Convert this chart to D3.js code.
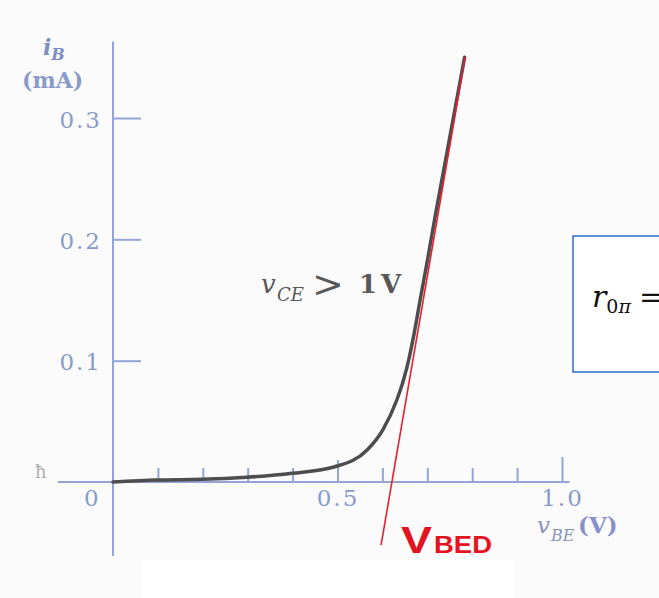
<!DOCTYPE html>
<html>
<head>
<meta charset="utf-8">
<script src="https://cdn.jsdelivr.net/npm/d3@7"></script>
<style>
  html, body { margin: 0; padding: 0; background: #fbfbfb; }
  svg { display: block; }
  .axis text { font-family: 'DejaVu Serif', serif; font-size: 23px; fill: #8a9bca; letter-spacing: 2px; }
  .axis line, .axis path { stroke: #93a5d6; stroke-width: 2px; }
</style>
</head>
<body>
<div id="chart"></div>
<script>
// forward characteristic i_B vs v_BE
const vBE = [0, 0.098, 0.198, 0.298, 0.399, 0.494, 0.566, 0.601, 0.6325, 0.647, 0.660, 0.672, 0.684, 0.699, 0.718, 0.738, 0.758, 0.783];
const iB = [0, 0.0017, 0.0022, 0.0039, 0.0072, 0.0126, 0.0264, 0.043, 0.068, 0.084, 0.103, 0.125, 0.150, 0.180, 0.220, 0.260, 0.300, 0.350];

// red tangent line (V_BED construction)
const tangentV = [0.597, 0.784];
const tangentI = [-0.052, 0.35];

const xTicks = [0.1, 0.2, 0.3, 0.4, 0.5, 0.6, 0.7, 0.8, 0.9, 1.0];
const xLabels = [0.5, 1.0];
const yTicks = [0.1, 0.2, 0.3];

const width = 659, height = 598;

const svg = d3.select('#chart').append('svg')
  .attr('width', width)
  .attr('height', height);

// white patch at the bottom of the scan
svg.append('rect')
  .attr('x', 142).attr('y', 560).attr('width', 372).attr('height', 38)
  .attr('fill', '#ffffff');

const x = d3.scaleLinear().domain([0, 1]).range([113, 562]);
const y = d3.scaleLinear().domain([0, 0.3]).range([482, 118]);

// y axis: ticks point right, labels on the left
const gy = svg.append('g')
  .attr('class', 'axis')
  .attr('transform', 'translate(' + x(0) + ',0)')
  .call(d3.axisLeft(y).tickValues(yTicks).tickFormat(d3.format('.1f'))
    .tickSizeInner(-28).tickSizeOuter(0).tickPadding(11));
gy.select('.domain').remove();
gy.selectAll('.tick text').attr('dy', '0.4em');
gy.append('line')
  .attr('x1', 0).attr('x2', 0)
  .attr('y1', y(0.363)).attr('y2', y(-0.061));

// x axis: ticks point up
const gx = svg.append('g')
  .attr('class', 'axis')
  .attr('transform', 'translate(0,' + y(0) + ')')
  .call(d3.axisBottom(x).tickValues(xTicks)
    .tickFormat(d => xLabels.includes(d) ? d3.format('.1f')(d) : '')
    .tickSizeInner(-14).tickSizeOuter(0).tickPadding(9));
gx.select('.domain').remove();
gx.selectAll('.tick line')
  .attr('y2', d => d === 1.0 ? -25 : (d === 0.5 ? -22 : -14));
gx.selectAll('.tick text').attr('y', 24).attr('dy', 0);
gx.append('line')
  .attr('x1', x(-0.123)).attr('x2', x(1.017))
  .attr('y1', 0).attr('y2', 0);
gx.append('text')
  .attr('x', x(-0.046)).attr('y', 24)
  .attr('text-anchor', 'middle')
  .text('0');

// axis titles
const iTitle = svg.append('text')
  .attr('x', 43).attr('y', 55)
  .style('font-family', "'DejaVu Serif', serif")
  .style('font-weight', 'bold').style('font-style', 'italic')
  .style('font-size', '22px').attr('fill', '#7d8fc2');
iTitle.append('tspan').text('i');
iTitle.append('tspan').attr('dy', 5).style('font-size', '16px').text('B');

svg.append('text')
  .attr('x', 22).attr('y', 88)
  .style('font-family', "'DejaVu Serif', serif")
  .style('font-weight', 'bold')
  .style('font-size', '22px').attr('fill', '#8a9bca')
  .text('(mA)');

const vTitle = svg.append('text')
  .attr('y', 533)
  .style('font-family', "'DejaVu Serif', serif")
  .style('font-size', '23px').attr('fill', '#8a93be');
vTitle.append('tspan').attr('x', 537).style('font-style', 'italic').text('v');
vTitle.append('tspan').attr('x', 551).attr('y', 541).style('font-style', 'italic').style('font-size', '16px').text('BE');
vTitle.append('tspan').attr('x', 578).attr('y', 533)
  .style('font-weight', 'bold').attr('fill', '#8a8fcc').text('(V)');

// stray mark left of the origin
svg.append('text')
  .attr('x', 35).attr('y', 478)
  .style('font-family', "'DejaVu Serif', serif")
  .style('font-size', '18px').attr('fill', '#b0b0b0')
  .text('ħ');

// characteristic curve
const pts = vBE.map((v, i) => [v, iB[i]]);
svg.append('path')
  .datum(pts)
  .attr('fill', 'none')
  .attr('stroke', '#4d4d4d')
  .attr('stroke-width', 3.5)
  .attr('stroke-linecap', 'round')
  .attr('d', d3.line().x(d => x(d[0])).y(d => y(d[1])).curve(d3.curveMonotoneX));

// tangent
svg.append('line')
  .attr('x1', x(tangentV[0])).attr('y1', y(tangentI[0]))
  .attr('x2', x(tangentV[1])).attr('y2', y(tangentI[1]))
  .attr('stroke', '#e8202e')
  .attr('stroke-width', 1.6);

// condition label
const cond = svg.append('text')
  .attr('y', 293)
  .style('font-family', "'DejaVu Serif', serif")
  .style('font-size', '26px').attr('fill', '#585858');
cond.append('tspan').attr('x', 261).style('font-style', 'italic').text('v');
cond.append('tspan').attr('x', 277).attr('y', 301).style('font-style', 'italic').style('font-size', '18px').text('CE');
cond.append('tspan').attr('x', 312).attr('y', 297).style('font-size', '38px').text('>');
cond.append('tspan').attr('x', 359).attr('y', 293).style('font-weight', 'bold').text('1');
cond.append('tspan').attr('x', 381).style('font-weight', 'bold').text('V');

// V_BED label
const vbedFont = "'Liberation Sans', Arial, sans-serif";
svg.append('text')
  .attr('x', 401).attr('y', 553)
  .attr('textLength', 31).attr('lengthAdjust', 'spacingAndGlyphs')
  .style('font-family', vbedFont).style('font-weight', 'bold')
  .style('font-size', '36px').attr('fill', '#e3141f')
  .text('V');
svg.append('text')
  .attr('x', 434).attr('y', 553)
  .attr('textLength', 58).attr('lengthAdjust', 'spacingAndGlyphs')
  .style('font-family', vbedFont).style('font-weight', 'bold')
  .style('font-size', '23px').attr('fill', '#e3141f')
  .text('BED');

// formula box on the right
svg.append('rect')
  .attr('x', 573).attr('y', 236)
  .attr('width', 110).attr('height', 136)
  .attr('fill', '#ffffff')
  .attr('stroke', '#2a6fcf')
  .attr('stroke-width', 1.5);
const r0 = svg.append('text')
  .attr('x', 592).attr('y', 307)
  .style('font-family', "'DejaVu Serif', 'Liberation Serif', serif")
  .style('font-size', '30px').attr('fill', '#111');
r0.append('tspan').style('font-style', 'italic').text('r');
r0.append('tspan').attr('dy', 6).style('font-size', '19px').text('0');
r0.append('tspan').style('font-size', '19px').style('font-style', 'italic').text('π');
r0.append('tspan').attr('dy', -6).attr('dx', 8).text('=');
</script>
</body>
</html>
